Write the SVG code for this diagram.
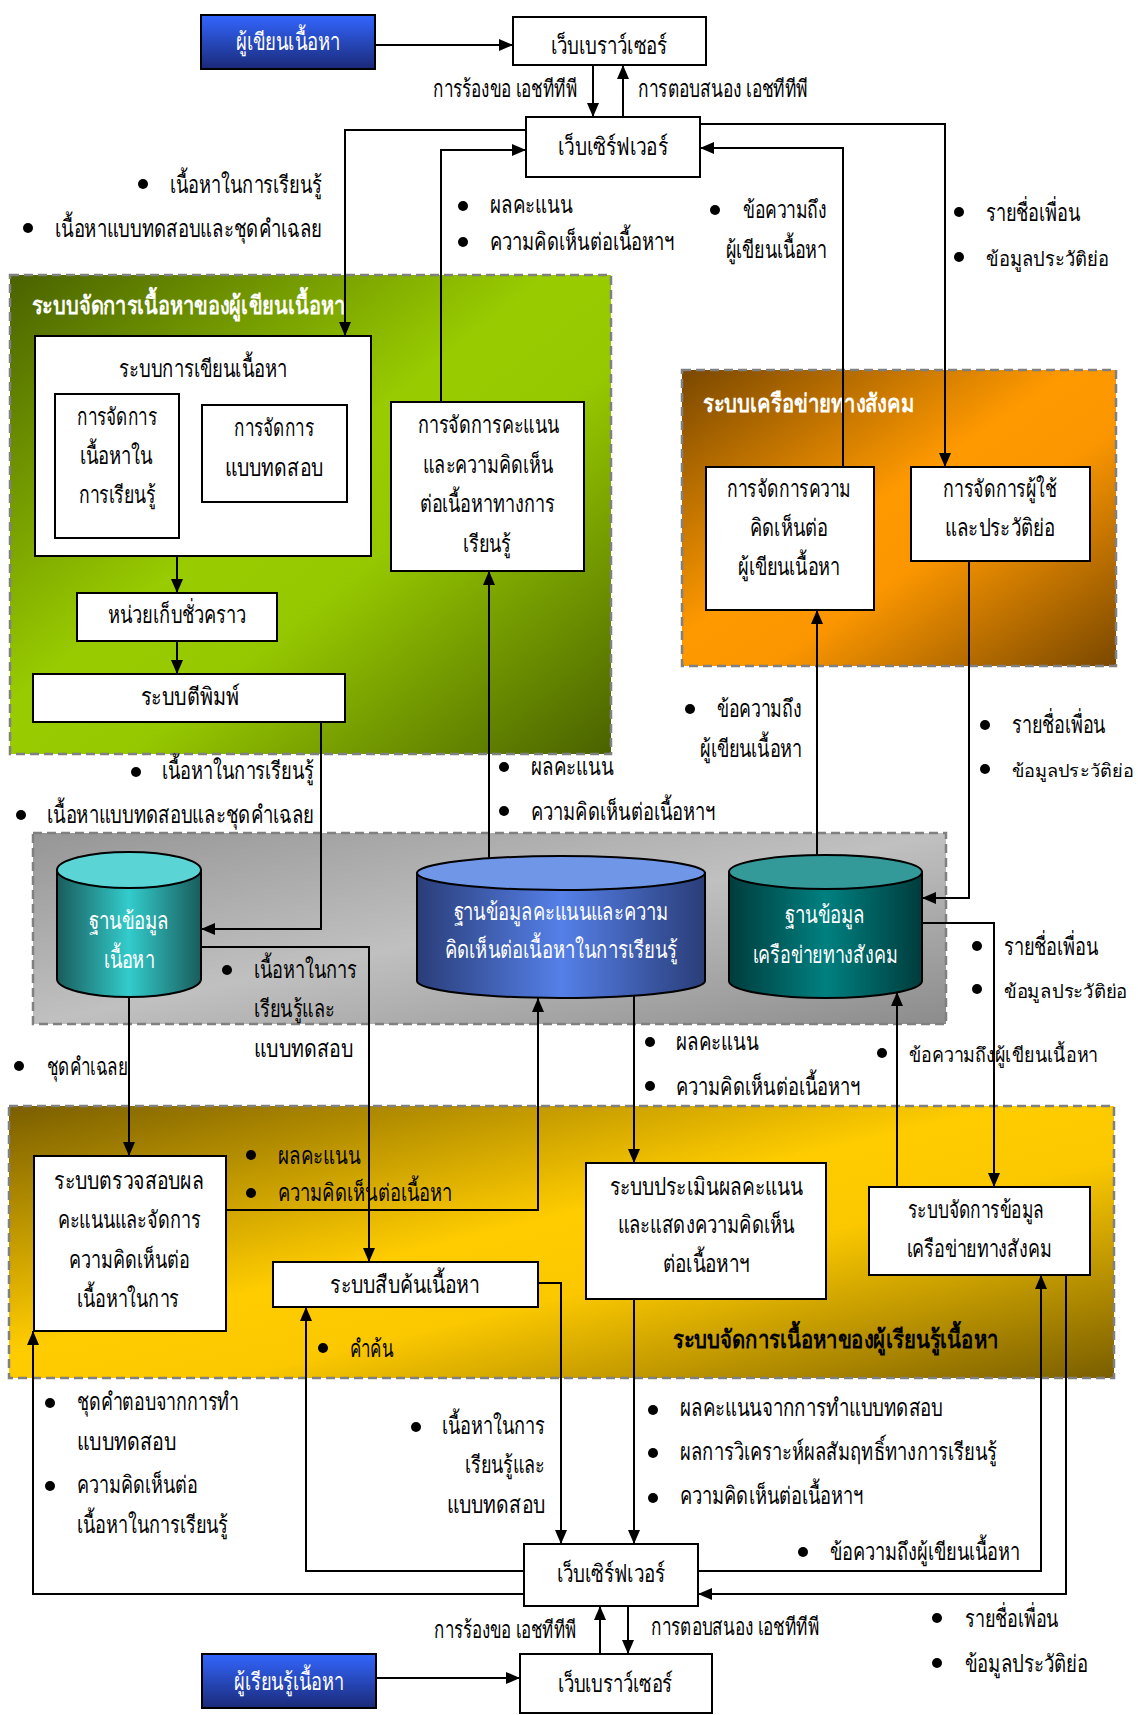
<svg xmlns="http://www.w3.org/2000/svg" width="1138" height="1715" viewBox="0 0 1138 1715">
<defs>
<marker id="ah" markerUnits="userSpaceOnUse" markerWidth="14" markerHeight="12" refX="14" refY="6" orient="auto">
<path d="M0,0 L14,6 L0,12 z" fill="#000"/>
</marker>
<linearGradient id="gGreen" x1="0" y1="0" x2="1" y2="1">
<stop offset="0" stop-color="#4a6200"/><stop offset="0.45" stop-color="#99cc00"/><stop offset="0.6" stop-color="#96c800"/><stop offset="1" stop-color="#4a6200"/>
</linearGradient>
<linearGradient id="gOrange" x1="0" y1="0" x2="1" y2="1">
<stop offset="0" stop-color="#7a4800"/><stop offset="0.45" stop-color="#ff9900"/><stop offset="0.6" stop-color="#fb9600"/><stop offset="1" stop-color="#7a4800"/>
</linearGradient>
<linearGradient id="gYellow" x1="0" y1="0" x2="1" y2="1">
<stop offset="0" stop-color="#7a5e00"/><stop offset="0.45" stop-color="#ffcc00"/><stop offset="0.6" stop-color="#fbc800"/><stop offset="1" stop-color="#7a5e00"/>
</linearGradient>
<linearGradient id="gGray" x1="0" y1="0" x2="1" y2="1">
<stop offset="0" stop-color="#969696"/><stop offset="0.5" stop-color="#c0c0c0"/><stop offset="1" stop-color="#8c8c8c"/>
</linearGradient>
<linearGradient id="gBlue" x1="0" y1="0" x2="0" y2="1">
<stop offset="0" stop-color="#3366ff"/><stop offset="1" stop-color="#1a2a78"/>
</linearGradient>
<linearGradient id="gDb1" x1="0" y1="0" x2="1" y2="0">
<stop offset="0" stop-color="#1a5c5c"/><stop offset="0.5" stop-color="#33cccc"/><stop offset="1" stop-color="#1a5c5c"/>
</linearGradient>
<linearGradient id="gDb2" x1="0" y1="0" x2="1" y2="0">
<stop offset="0" stop-color="#2a3d78"/><stop offset="0.5" stop-color="#5580e8"/><stop offset="1" stop-color="#2a3d78"/>
</linearGradient>
<linearGradient id="gDb3" x1="0" y1="0" x2="1" y2="0">
<stop offset="0" stop-color="#003c3c"/><stop offset="0.5" stop-color="#008080"/><stop offset="1" stop-color="#003c3c"/>
</linearGradient>
<style>
.t{font-family:"Liberation Serif","DejaVu Serif",serif;font-size:24px;fill:#000}
.c{text-anchor:middle}
.e{text-anchor:end}
.w{fill:#fff}
.b{font-weight:bold;font-size:25px}
.s20{font-size:20px}
.s19{font-size:19px}
.s18{font-size:18px}
.box{fill:#fff;stroke:#000;stroke-width:2}
.blue{fill:url(#gBlue);stroke:#000;stroke-width:2}
.reg{stroke:#808080;stroke-width:2.5;stroke-dasharray:9 5}
.ln{fill:none;stroke:#000;stroke-width:2}
.ar{marker-end:url(#ah)}
.db{stroke:#000;stroke-width:2}
</style>
</defs>
<rect width="1138" height="1715" fill="#fff"/>

<g id="region-author">
<rect class="reg" x="10" y="275" width="601" height="479" fill="url(#gGreen)"/>
<text class="t w b" x="32" y="314" textLength="313" lengthAdjust="spacingAndGlyphs">ระบบจัดการเนื้อหาของผู้เขียนเนื้อหา</text>
</g>
<g id="region-social">
<rect class="reg" x="682" y="370" width="434" height="296" fill="url(#gOrange)"/>
<text class="t w b" x="703" y="412" textLength="211" lengthAdjust="spacingAndGlyphs">ระบบเครือข่ายทางสังคม</text>
</g>
<g id="region-db">
<rect class="reg" x="33" y="833" width="913" height="191" fill="url(#gGray)"/>
</g>
<g id="region-learner">
<rect class="reg" x="9" y="1106" width="1105" height="272" fill="url(#gYellow)"/>
<text class="t b" x="673" y="1348" textLength="325" lengthAdjust="spacingAndGlyphs">ระบบจัดการเนื้อหาของผู้เรียนรู้เนื้อหา</text>
</g>

<g id="connectors">
<path class="ln ar" d="M375,45 H513"/>
<path class="ln ar" d="M593,65 V117"/>
<path class="ln ar" d="M623,117 V65"/>
<path class="ln ar" d="M526,130 H345 V336"/>
<path class="ln ar" d="M441,402 V150 H526"/>
<path class="ln ar" d="M700,124 H945 V467"/>
<path class="ln ar" d="M843,467 V148 H700"/>
<path class="ln ar" d="M177,556 V593"/>
<path class="ln ar" d="M177,641 V674"/>
<path class="ln ar" d="M321,722 V929 H201"/>
<path class="ln ar" d="M201,947 H369 V1262"/>
<path class="ln ar" d="M129,997 V1156"/>
<path class="ln ar" d="M226,1210 H538 V998"/>
<path class="ln ar" d="M489,858 V571"/>
<path class="ln ar" d="M634,996 V1163"/>
<path class="ln ar" d="M817,855 V610"/>
<path class="ln ar" d="M969,561 V898 H922"/>
<path class="ln ar" d="M922,923 H994 V1187"/>
<path class="ln ar" d="M897,1187 V992"/>
<path class="ln ar" d="M538,1283 H561 V1544"/>
<path class="ln ar" d="M634,1299 V1544"/>
<path class="ln ar" d="M524,1571 H306 V1307"/>
<path class="ln ar" d="M524,1594 H33 V1331"/>
<path class="ln ar" d="M698,1571 H1041 V1275"/>
<path class="ln ar" d="M1066,1275 V1594 H698"/>
<path class="ln ar" d="M600,1654 V1606"/>
<path class="ln ar" d="M628,1606 V1654"/>
<path class="ln ar" d="M376,1678 H520"/>
</g>

<g id="author">
<rect class="blue" x="201" y="15" width="174" height="54"/>
<text class="t w c" x="288" y="50" textLength="104" lengthAdjust="spacingAndGlyphs">ผู้เขียนเนื้อหา</text>
</g>
<g id="browser-top">
<rect class="box" x="513" y="17" width="193" height="48"/>
<text class="t c" x="609" y="54" textLength="116" lengthAdjust="spacingAndGlyphs">เว็บเบราว์เซอร์</text>
</g>
<g id="server-top">
<rect class="box" x="526" y="117" width="174" height="60"/>
<text class="t c" x="613" y="155" textLength="110" lengthAdjust="spacingAndGlyphs">เว็บเซิร์ฟเวอร์</text>
</g>
<g id="writing">
<rect class="box" x="35" y="336" width="336" height="220"/>
<text class="t c" x="203" y="377" textLength="168" lengthAdjust="spacingAndGlyphs">ระบบการเขียนเนื้อหา</text>
</g>
<g id="manage-content">
<rect class="box" x="55" y="394" width="124" height="144"/>
<text class="t c" x="117" y="425" textLength="80" lengthAdjust="spacingAndGlyphs">การจัดการ</text>
<text class="t c" x="116" y="464" textLength="73" lengthAdjust="spacingAndGlyphs">เนื้อหาใน</text>
<text class="t c" x="117" y="503" textLength="77" lengthAdjust="spacingAndGlyphs">การเรียนรู้</text>
</g>
<g id="manage-test">
<rect class="box" x="202" y="405" width="145" height="97"/>
<text class="t c" x="274" y="436" textLength="80" lengthAdjust="spacingAndGlyphs">การจัดการ</text>
<text class="t c" x="274" y="476" textLength="98" lengthAdjust="spacingAndGlyphs">แบบทดสอบ</text>
</g>
<g id="temp">
<rect class="box" x="77" y="593" width="200" height="48"/>
<text class="t c" x="177" y="623" textLength="138" lengthAdjust="spacingAndGlyphs">หน่วยเก็บชั่วคราว</text>
</g>
<g id="publish">
<rect class="box" x="33" y="674" width="312" height="48"/>
<text class="t c" x="190" y="705" textLength="99" lengthAdjust="spacingAndGlyphs">ระบบตีพิมพ์</text>
</g>
<g id="scoring">
<rect class="box" x="391" y="402" width="193" height="169"/>
<text class="t c" x="488" y="433" textLength="141" lengthAdjust="spacingAndGlyphs">การจัดการคะแนน</text>
<text class="t c" x="488" y="473" textLength="130" lengthAdjust="spacingAndGlyphs">และความคิดเห็น</text>
<text class="t c" x="487" y="512" textLength="135" lengthAdjust="spacingAndGlyphs">ต่อเนื้อหาทางการ</text>
<text class="t c" x="487" y="552" textLength="48" lengthAdjust="spacingAndGlyphs">เรียนรู้</text>
</g>
<g id="comment-mgmt">
<rect class="box" x="706" y="467" width="168" height="143"/>
<text class="t c" x="789" y="497" textLength="124" lengthAdjust="spacingAndGlyphs">การจัดการความ</text>
<text class="t c" x="789" y="536" textLength="78" lengthAdjust="spacingAndGlyphs">คิดเห็นต่อ</text>
<text class="t c" x="789" y="575" textLength="102" lengthAdjust="spacingAndGlyphs">ผู้เขียนเนื้อหา</text>
</g>
<g id="user-mgmt">
<rect class="box" x="911" y="467" width="179" height="94"/>
<text class="t c" x="1000" y="497" textLength="114" lengthAdjust="spacingAndGlyphs">การจัดการผู้ใช้</text>
<text class="t c" x="1000" y="536" textLength="110" lengthAdjust="spacingAndGlyphs">และประวัติย่อ</text>
</g>
<g id="db-content">
<path class="db" fill="url(#gDb1)" d="M57,870 V979 A72,18 0 0 0 201,979 V870 Z"/>
<ellipse class="db" cx="129" cy="870" rx="72" ry="18" fill="#5ad4d4"/>
<text class="t w c" x="129" y="929" textLength="80" lengthAdjust="spacingAndGlyphs">ฐานข้อมูล</text>
<text class="t w c" x="129" y="968" textLength="51" lengthAdjust="spacingAndGlyphs">เนื้อหา</text>
</g>
<g id="db-score">
<path class="db" fill="url(#gDb2)" d="M417,873 V981 A144,17 0 0 0 705,981 V873 Z"/>
<ellipse class="db" cx="561" cy="873" rx="144" ry="17" fill="#7096e8"/>
<text class="t w c" x="561" y="920" textLength="215" lengthAdjust="spacingAndGlyphs">ฐานข้อมูลคะแนนและความ</text>
<text class="t w c" x="561" y="958" textLength="233" lengthAdjust="spacingAndGlyphs">คิดเห็นต่อเนื้อหาในการเรียนรู้</text>
</g>
<g id="db-social">
<path class="db" fill="url(#gDb3)" d="M729,872 V981 A96.5,17 0 0 0 922,981 V872 Z"/>
<ellipse class="db" cx="825.5" cy="872" rx="96.5" ry="17" fill="#339999"/>
<text class="t w c" x="825" y="923" textLength="80" lengthAdjust="spacingAndGlyphs">ฐานข้อมูล</text>
<text class="t w c" x="825" y="963" textLength="145" lengthAdjust="spacingAndGlyphs">เครือข่ายทางสังคม</text>
</g>
<g id="verify">
<rect class="box" x="34" y="1156" width="192" height="175"/>
<text class="t c" x="129" y="1189" textLength="150" lengthAdjust="spacingAndGlyphs">ระบบตรวจสอบผล</text>
<text class="t c" x="129" y="1228" textLength="143" lengthAdjust="spacingAndGlyphs">คะแนนและจัดการ</text>
<text class="t c" x="129" y="1268" textLength="120" lengthAdjust="spacingAndGlyphs">ความคิดเห็นต่อ</text>
<text class="t c" x="128" y="1307" textLength="102" lengthAdjust="spacingAndGlyphs">เนื้อหาในการ</text>
</g>
<g id="search">
<rect class="box" x="273" y="1262" width="265" height="45"/>
<text class="t c" x="405" y="1293" textLength="150" lengthAdjust="spacingAndGlyphs">ระบบสืบค้นเนื้อหา</text>
</g>
<g id="evaluate">
<rect class="box" x="586" y="1163" width="240" height="136"/>
<text class="t c" x="706" y="1195" textLength="193" lengthAdjust="spacingAndGlyphs">ระบบประเมินผลคะแนน</text>
<text class="t c" x="706" y="1233" textLength="177" lengthAdjust="spacingAndGlyphs">และแสดงความคิดเห็น</text>
<text class="t c" x="706" y="1272" textLength="87" lengthAdjust="spacingAndGlyphs">ต่อเนื้อหาฯ</text>
</g>
<g id="social-data">
<rect class="box" x="869" y="1187" width="221" height="88"/>
<text class="t c" x="976" y="1218" textLength="136" lengthAdjust="spacingAndGlyphs">ระบบจัดการข้อมูล</text>
<text class="t c" x="979" y="1257" textLength="145" lengthAdjust="spacingAndGlyphs">เครือข่ายทางสังคม</text>
</g>
<g id="server-bottom">
<rect class="box" x="524" y="1544" width="174" height="62"/>
<text class="t c" x="611" y="1582" textLength="108" lengthAdjust="spacingAndGlyphs">เว็บเซิร์ฟเวอร์</text>
</g>
<g id="browser-bottom">
<rect class="box" x="520" y="1654" width="192" height="59"/>
<text class="t c" x="615" y="1692" textLength="115" lengthAdjust="spacingAndGlyphs">เว็บเบราว์เซอร์</text>
</g>
<g id="learner">
<rect class="blue" x="202" y="1654" width="174" height="54"/>
<text class="t w c" x="289" y="1690" textLength="110" lengthAdjust="spacingAndGlyphs">ผู้เรียนรู้เนื้อหา</text>
</g>

<g id="labels">
<text class="t" x="433" y="97" textLength="144" lengthAdjust="spacingAndGlyphs">การร้องขอ เอชทีทีพี</text>
<text class="t" x="638" y="97" textLength="170" lengthAdjust="spacingAndGlyphs">การตอบสนอง เอชทีทีพี</text>
<circle cx="143" cy="184" r="5"/><text class="t" x="170" y="193" textLength="152" lengthAdjust="spacingAndGlyphs">เนื้อหาในการเรียนรู้</text>
<circle cx="28" cy="228" r="5"/><text class="t" x="55" y="237" textLength="267" lengthAdjust="spacingAndGlyphs">เนื้อหาแบบทดสอบและชุดคำเฉลย</text>
<circle cx="463" cy="206" r="5"/><text class="t" x="490" y="213" textLength="82" lengthAdjust="spacingAndGlyphs">ผลคะแนน</text>
<circle cx="463" cy="242" r="5"/><text class="t" x="490" y="250" textLength="184" lengthAdjust="spacingAndGlyphs">ความคิดเห็นต่อเนื้อหาฯ</text>
<circle cx="715" cy="210" r="5"/><text class="t e" x="827" y="218" textLength="84" lengthAdjust="spacingAndGlyphs">ข้อความถึง</text><text class="t e" x="827" y="258" textLength="101" lengthAdjust="spacingAndGlyphs">ผู้เขียนเนื้อหา</text>
<circle cx="959" cy="212" r="5"/><text class="t" x="986" y="221" textLength="94" lengthAdjust="spacingAndGlyphs">รายชื่อเพื่อน</text>
<circle cx="959" cy="257" r="5"/><text class="t s20" x="986" y="266" textLength="123" lengthAdjust="spacingAndGlyphs">ข้อมูลประวัติย่อ</text>
<circle cx="690" cy="709" r="5"/><text class="t e" x="802" y="717" textLength="85" lengthAdjust="spacingAndGlyphs">ข้อความถึง</text><text class="t e" x="802" y="757" textLength="102" lengthAdjust="spacingAndGlyphs">ผู้เขียนเนื้อหา</text>
<circle cx="985" cy="725" r="5"/><text class="t" x="1012" y="733" textLength="93" lengthAdjust="spacingAndGlyphs">รายชื่อเพื่อน</text>
<circle cx="985" cy="769" r="5"/><text class="t s18" x="1012" y="777" textLength="122" lengthAdjust="spacingAndGlyphs">ข้อมูลประวัติย่อ</text>
<circle cx="136" cy="772" r="5"/><text class="t" x="162" y="779" textLength="152" lengthAdjust="spacingAndGlyphs">เนื้อหาในการเรียนรู้</text>
<circle cx="21" cy="815" r="5"/><text class="t" x="47" y="823" textLength="267" lengthAdjust="spacingAndGlyphs">เนื้อหาแบบทดสอบและชุดคำเฉลย</text>
<circle cx="504" cy="767" r="5"/><text class="t" x="531" y="775" textLength="82" lengthAdjust="spacingAndGlyphs">ผลคะแนน</text>
<circle cx="504" cy="811" r="5"/><text class="t" x="531" y="820" textLength="184" lengthAdjust="spacingAndGlyphs">ความคิดเห็นต่อเนื้อหาฯ</text>
<circle cx="227" cy="970" r="5"/><text class="t" x="254" y="978" textLength="103" lengthAdjust="spacingAndGlyphs">เนื้อหาในการ</text><text class="t" x="254" y="1017" textLength="81" lengthAdjust="spacingAndGlyphs">เรียนรู้และ</text><text class="t" x="254" y="1057" textLength="99" lengthAdjust="spacingAndGlyphs">แบบทดสอบ</text>
<circle cx="19" cy="1066" r="5"/><text class="t" x="47" y="1075" textLength="81" lengthAdjust="spacingAndGlyphs">ชุดคำเฉลย</text>
<circle cx="977" cy="946" r="5"/><text class="t" x="1004" y="955" textLength="94" lengthAdjust="spacingAndGlyphs">รายชื่อเพื่อน</text>
<circle cx="977" cy="989" r="5"/><text class="t s19" x="1004" y="998" textLength="123" lengthAdjust="spacingAndGlyphs">ข้อมูลประวัติย่อ</text>
<circle cx="650" cy="1042" r="5"/><text class="t" x="676" y="1050" textLength="82" lengthAdjust="spacingAndGlyphs">ผลคะแนน</text>
<circle cx="650" cy="1086" r="5"/><text class="t" x="676" y="1095" textLength="184" lengthAdjust="spacingAndGlyphs">ความคิดเห็นต่อเนื้อหาฯ</text>
<circle cx="882" cy="1053" r="5"/><text class="t s20" x="909" y="1062" textLength="189" lengthAdjust="spacingAndGlyphs">ข้อความถึงผู้เขียนเนื้อหา</text>
<circle cx="251" cy="1155" r="5"/><text class="t" x="278" y="1164" textLength="82" lengthAdjust="spacingAndGlyphs">ผลคะแนน</text>
<circle cx="251" cy="1193" r="5"/><text class="t" x="278" y="1201" textLength="174" lengthAdjust="spacingAndGlyphs">ความคิดเห็นต่อเนื้อหา</text>
<circle cx="323" cy="1348" r="5"/><text class="t" x="350" y="1357" textLength="43" lengthAdjust="spacingAndGlyphs">คำค้น</text>
<circle cx="50" cy="1403" r="5"/><text class="t" x="77" y="1410" textLength="162" lengthAdjust="spacingAndGlyphs">ชุดคำตอบจากการทำ</text><text class="t" x="77" y="1450" textLength="99" lengthAdjust="spacingAndGlyphs">แบบทดสอบ</text>
<circle cx="50" cy="1486" r="5"/><text class="t" x="77" y="1493" textLength="120" lengthAdjust="spacingAndGlyphs">ความคิดเห็นต่อ</text><text class="t" x="77" y="1533" textLength="151" lengthAdjust="spacingAndGlyphs">เนื้อหาในการเรียนรู้</text>
<circle cx="416" cy="1427" r="5"/><text class="t e" x="545" y="1434" textLength="103" lengthAdjust="spacingAndGlyphs">เนื้อหาในการ</text><text class="t e" x="545" y="1473" textLength="80" lengthAdjust="spacingAndGlyphs">เรียนรู้และ</text><text class="t e" x="545" y="1513" textLength="98" lengthAdjust="spacingAndGlyphs">แบบทดสอบ</text>
<circle cx="653" cy="1410" r="5"/><text class="t" x="680" y="1416" textLength="263" lengthAdjust="spacingAndGlyphs">ผลคะแนนจากการทำแบบทดสอบ</text>
<circle cx="653" cy="1453" r="5"/><text class="t" x="680" y="1460" textLength="317" lengthAdjust="spacingAndGlyphs">ผลการวิเคราะห์ผลสัมฤทธิ์ทางการเรียนรู้</text>
<circle cx="653" cy="1498" r="5"/><text class="t" x="680" y="1504" textLength="183" lengthAdjust="spacingAndGlyphs">ความคิดเห็นต่อเนื้อหาฯ</text>
<circle cx="803" cy="1552" r="5"/><text class="t" x="830" y="1560" textLength="190" lengthAdjust="spacingAndGlyphs">ข้อความถึงผู้เขียนเนื้อหา</text>
<circle cx="937" cy="1618" r="5"/><text class="t" x="965" y="1627" textLength="93" lengthAdjust="spacingAndGlyphs">รายชื่อเพื่อน</text>
<circle cx="937" cy="1663" r="5"/><text class="t" x="965" y="1672" textLength="123" lengthAdjust="spacingAndGlyphs">ข้อมูลประวัติย่อ</text>
<text class="t" x="434" y="1638" textLength="142" lengthAdjust="spacingAndGlyphs">การร้องขอ เอชทีทีพี</text>
<text class="t" x="651" y="1635" textLength="168" lengthAdjust="spacingAndGlyphs">การตอบสนอง เอชทีทีพี</text>
</g>
</svg>
